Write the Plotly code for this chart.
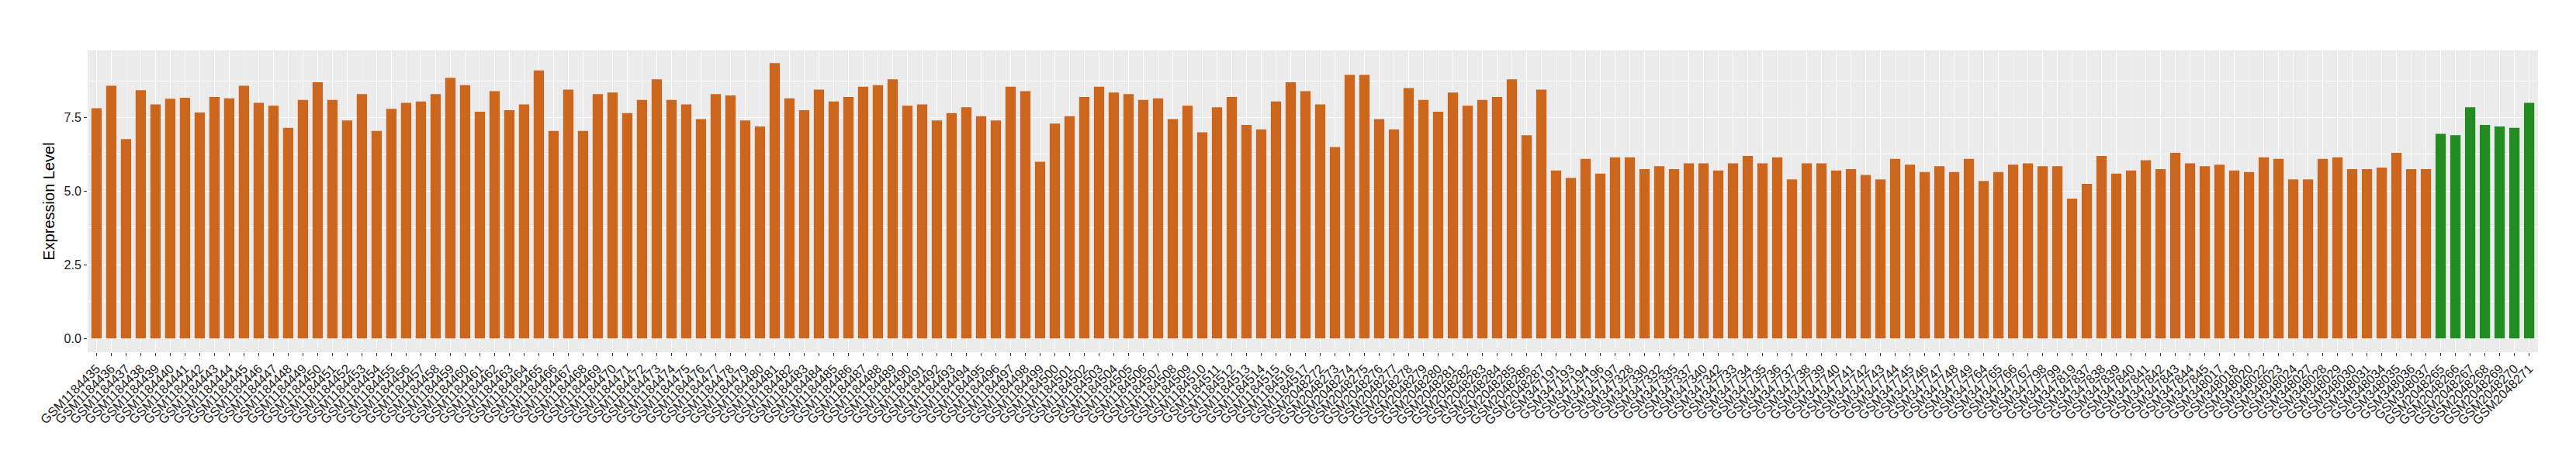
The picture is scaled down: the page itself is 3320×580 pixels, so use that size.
import plotly.graph_objects as go

# ---- data -------------------------------------------------------------
samples_a = (
    [f"GSM{n}" for n in range(1184435, 1184518)]
    + [f"GSM{n}" for n in range(2048272, 2048288)]
    + ["GSM347191", "GSM347193", "GSM347194", "GSM347196", "GSM347197",
       "GSM347328", "GSM347330", "GSM347332", "GSM347335", "GSM347337",
       "GSM347340", "GSM347342"]
    + [f"GSM{n}" for n in range(347733, 347750)]
    + ["GSM347764", "GSM347765", "GSM347766", "GSM347767", "GSM347798",
       "GSM347799", "GSM347819", "GSM347837", "GSM347838", "GSM347839",
       "GSM347840", "GSM347841", "GSM347842", "GSM347843", "GSM347844",
       "GSM347845",
       "GSM348017", "GSM348018", "GSM348020", "GSM348022", "GSM348023",
       "GSM348024", "GSM348027", "GSM348028", "GSM348029", "GSM348030",
       "GSM348031", "GSM348034", "GSM348035", "GSM348036", "GSM348037"]
)
values_a = [
    7.82, 8.58, 6.77, 8.43, 7.95, 8.14, 8.17, 7.67, 8.20, 8.15,
    8.58, 8.00, 7.90, 7.15, 8.10, 8.70, 8.10, 7.40, 8.30, 7.05,
    7.80, 8.00, 8.05, 8.30, 8.85, 8.60, 7.70, 8.40, 7.75, 7.95,
    9.10, 7.05, 8.45, 7.05, 8.30, 8.35, 7.65, 8.10, 8.80, 8.10,
    7.95, 7.45, 8.30, 8.25, 7.40, 7.20, 9.35, 8.15, 7.75, 8.45,
    8.05, 8.20, 8.55, 8.60, 8.80, 7.90, 7.95, 7.40, 7.65, 7.85,
    7.55, 7.40, 8.55, 8.40, 6.00, 7.30, 7.55, 8.20, 8.55, 8.35,
    8.30, 8.10, 8.15, 7.45, 7.90, 7.00, 7.85, 8.20, 7.25, 7.10,
    8.05, 8.70, 8.40, 7.95, 6.50, 8.95, 8.95, 7.45, 7.10, 8.50,
    8.10, 7.70, 8.35, 7.90, 8.10, 8.20, 8.80, 6.90, 8.45, 5.70,
    5.45, 6.10, 5.60, 6.15, 6.15, 5.75, 5.85, 5.75, 5.95, 5.95,
    5.70, 5.95, 6.20, 5.95, 6.15, 5.40, 5.95, 5.95, 5.70, 5.75,
    5.55, 5.40, 6.10, 5.90, 5.65, 5.85, 5.65, 6.10, 5.35, 5.65,
    5.90, 5.95, 5.85, 5.85, 4.75, 5.25, 6.20, 5.60, 5.70, 6.05,
    5.75, 6.30, 5.95, 5.85, 5.90, 5.70, 5.65, 6.15, 6.10, 5.40,
    5.40, 6.10, 6.15, 5.75, 5.75, 5.80, 6.30, 5.75, 5.75,
]
samples_b = [f"GSM{n}" for n in range(2048265, 2048272)]
values_b = [6.95, 6.90, 7.85, 7.25, 7.20, 7.15, 8.00]

y_ticks = [0.0, 2.5, 5.0, 7.5]
y_ticklabels = ["0.0", "2.5", "5.0", "7.5"]

color_a = "#CD661D"
color_b = "#228B22"

# ---- figure -----------------------------------------------------------
all_samples = samples_a + samples_b

fig = go.Figure()
fig.add_trace(go.Bar(x=samples_a, y=values_a, marker_color=color_a,
                     marker_line_width=0, showlegend=False))
fig.add_trace(go.Bar(x=samples_b, y=values_b, marker_color=color_b,
                     marker_line_width=0, showlegend=False))

n_total = len(all_samples)
fig.update_layout(
    width=3320, height=580,
    margin=dict(l=105, r=57, t=57, b=134),
    paper_bgcolor="white",
    plot_bgcolor="#EBEBEB",
    barmode="relative",
    bargap=0.3,
    font=dict(family="Liberation Sans, Arial, sans-serif", color="#4D4D4D"),
)
fig.update_xaxes(
    type="category",
    categoryorder="array",
    categoryarray=all_samples,
    tickmode="array", tickvals=all_samples, ticktext=all_samples,
    range=[-0.6, n_total - 1 + 0.6],
    showgrid=True, gridcolor="white", gridwidth=1.1,
    ticks="outside", ticklen=4, tickcolor="#333333", tickwidth=1,
    tickangle=-45,
    tickfont=dict(size=16.5, color="#1A1A1A"),
    zeroline=False, showline=False,
    automargin=False,
)
fig.update_yaxes(
    range=[-0.468, 9.78],
    tickvals=y_ticks, ticktext=y_ticklabels,
    showgrid=True, gridcolor="white", gridwidth=1.1,
    minor=dict(tickvals=[1.25, 3.75, 6.25, 8.75], showgrid=True,
               gridcolor="white", gridwidth=0.5, ticks=""),
    ticks="outside", ticklen=4, tickcolor="#333333", tickwidth=1,
    tickfont=dict(size=16, color="#1A1A1A"),
    zeroline=False, showline=False,
    title=dict(text="Expression Level", font=dict(size=20, color="black"),
               standoff=6),
)

fig.write_html("out.html")
